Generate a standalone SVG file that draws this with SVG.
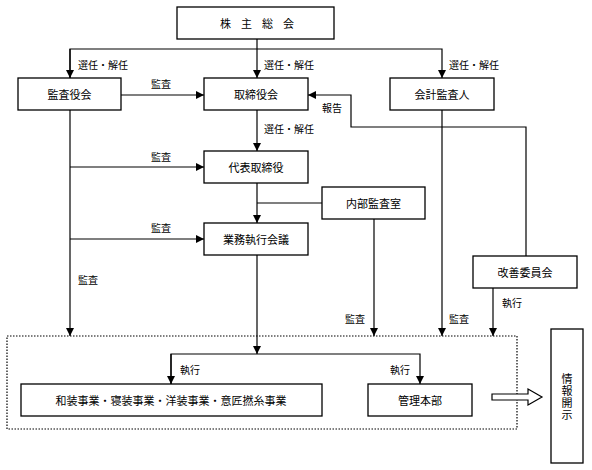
<svg xmlns="http://www.w3.org/2000/svg" width="592" height="470" viewBox="0 0 592 470">
<defs>
<marker id="ah" viewBox="0 0 10 10" refX="10" refY="5" markerWidth="8" markerHeight="8" markerUnits="userSpaceOnUse" orient="auto">
<path d="M0,0 L10,5 L0,10 Z" fill="#000"/>
</marker>
<style>
.box{fill:#fff;stroke:#000;stroke-width:1.3}
.ln{fill:none;stroke:#000;stroke-width:1.2}
.t{font-family:"Noto Sans CJK JP","Noto Sans CJK SC",sans-serif;font-size:11px;fill:#000;text-anchor:middle;dominant-baseline:central}
.v{font-family:"Noto Sans CJK JP","Noto Sans CJK SC",sans-serif;font-size:11px;fill:#000;text-anchor:middle;writing-mode:vertical-rl;text-orientation:upright;letter-spacing:1px}
.l{font-family:"Noto Sans CJK JP","Noto Sans CJK SC",sans-serif;font-size:10px;fill:#000;dominant-baseline:central}
</style>
</defs>
<rect x="0" y="0" width="592" height="470" fill="#fff"/>
<g id="connectors">
<path class="ln" d="M257,39 V78" marker-end="url(#ah)"/>
<path class="ln" d="M70,78 V49 H442 V78" marker-end="url(#ah)"/>
<path class="ln" d="M70,49 V78" marker-end="url(#ah)"/>
<path class="ln" d="M121,95 H204" marker-end="url(#ah)"/>
<path class="ln" d="M526,256 V127 H351 V95 H308" marker-end="url(#ah)"/>
<path class="ln" d="M257,110 V151" marker-end="url(#ah)"/>
<path class="ln" d="M70,110 V336" marker-end="url(#ah)"/>
<path class="ln" d="M70,167 H204" marker-end="url(#ah)"/>
<path class="ln" d="M70,239 H204" marker-end="url(#ah)"/>
<path class="ln" d="M257,183 V223" marker-end="url(#ah)"/>
<path class="ln" d="M257,203 H322"/>
<path class="ln" d="M374,219 V336" marker-end="url(#ah)"/>
<path class="ln" d="M442,110 V336" marker-end="url(#ah)"/>
<path class="ln" d="M493,288 V336" marker-end="url(#ah)"/>
<path class="ln" d="M257,255 V354" marker-end="url(#ah)"/>
<path class="ln" d="M171,384 V354 H420 V384" marker-end="url(#ah)"/>
<path class="ln" d="M171,354 V384" marker-end="url(#ah)"/>
<rect x="7" y="336" width="510" height="93" fill="none" stroke="#000" stroke-width="1.2" stroke-dasharray="1.5,1.5"/>
<path d="M492,394 H528 V389 L542,397 L528,405 V400 H492 Z" fill="#fff" stroke="#000" stroke-width="1.2"/>
<text class="l" x="78" y="64">選任・解任</text>
<text class="l" x="264" y="64">選任・解任</text>
<text class="l" x="449" y="64">選任・解任</text>
<text class="l" x="151" y="83">監査</text>
<text class="l" x="322" y="107">報告</text>
<text class="l" x="264" y="128">選任・解任</text>
<text class="l" x="151" y="156">監査</text>
<text class="l" x="151" y="227">監査</text>
<text class="l" x="78" y="279">監査</text>
<text class="l" x="345" y="318">監査</text>
<text class="l" x="449" y="318">監査</text>
<text class="l" x="502" y="302">執行</text>
<text class="l" x="180" y="369">執行</text>
<text class="l" x="390" y="369">執行</text>
</g>
<g id="kabunushi"><rect class="box" x="177" y="7" width="157" height="32"/><text class="t" x="262" y="23" letter-spacing="10">株主総会</text></g>
<g id="kansayakukai"><rect class="box" x="18" y="78" width="103" height="32"/><text class="t" x="69.5" y="94">監査役会</text></g>
<g id="torishimariyakukai"><rect class="box" x="204" y="78" width="104" height="32"/><text class="t" x="256" y="94">取締役会</text></g>
<g id="kaikeikansanin"><rect class="box" x="390" y="78" width="104" height="32"/><text class="t" x="442" y="94">会計監査人</text></g>
<g id="daihyo"><rect class="box" x="204" y="151" width="104" height="32"/><text class="t" x="256" y="167">代表取締役</text></g>
<g id="naibukansa"><rect class="box" x="322" y="187" width="103" height="32"/><text class="t" x="373.5" y="203">内部監査室</text></g>
<g id="gyomushikko"><rect class="box" x="204" y="223" width="104" height="32"/><text class="t" x="256" y="239">業務執行会議</text></g>
<g id="kaizen"><rect class="box" x="473" y="256" width="104" height="32"/><text class="t" x="525" y="272">改善委員会</text></g>
<g id="jigyo"><rect class="box" x="21" y="384" width="301" height="32"/><text class="t" x="171" y="400">和装事業・寝装事業・洋装事業・意匠撚糸事業</text></g>
<g id="kanri"><rect class="box" x="368" y="384" width="104" height="32"/><text class="t" x="420" y="400">管理本部</text></g>
<g id="joho"><rect class="box" x="551" y="329" width="32" height="134"/>
<text class="v" x="567" y="397">情報開示</text></g>
</svg>
